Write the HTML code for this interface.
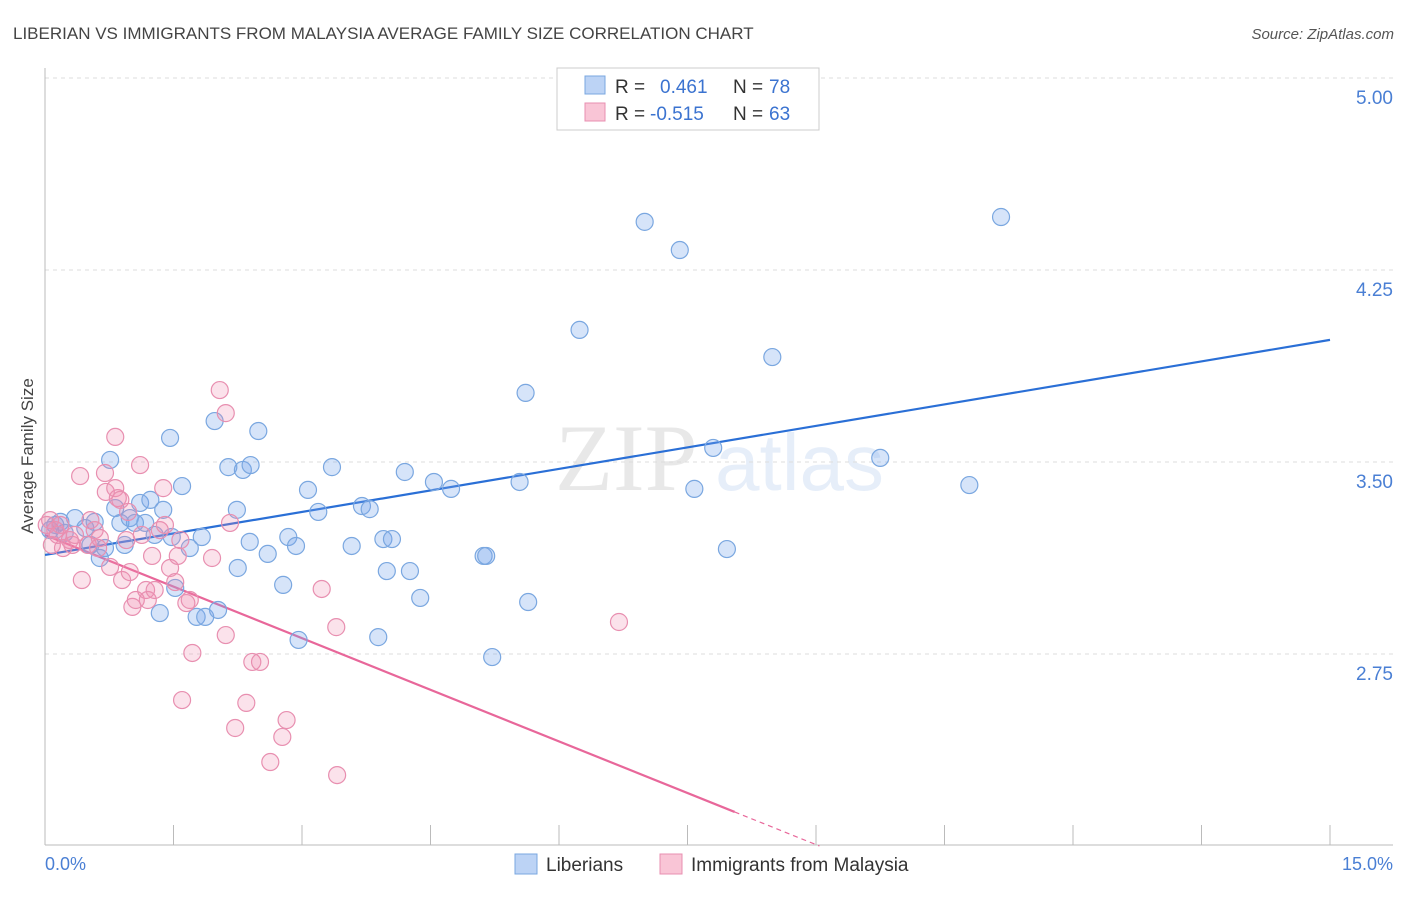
<!DOCTYPE html>
<html><head><meta charset="utf-8"><style>
body{margin:0;background:#fff;font-family:"Liberation Sans",sans-serif;}
</style></head><body>
<svg id="chart" width="1406" height="892" xmlns="http://www.w3.org/2000/svg" font-family="Liberation Sans, sans-serif">
<text x="13" y="39" font-size="17" fill="#444">LIBERIAN VS IMMIGRANTS FROM MALAYSIA AVERAGE FAMILY SIZE CORRELATION CHART</text>
<text x="1394" y="39" font-size="15" fill="#555" font-style="italic" text-anchor="end">Source: ZipAtlas.com</text>
<text transform="translate(33,456) rotate(-90)" font-size="17" fill="#444" text-anchor="middle">Average Family Size</text>
<g opacity="0.13"><text x="555" y="490" font-size="95" font-family="Liberation Serif, serif" fill="#555">ZIP</text><text x="715" y="490" font-size="80" fill="#4a7fd4">atlas</text></g>
<g id="grid"></g><g id="axes"></g><g id="lines"></g><g id="pts"></g>
<g>
<rect x="557" y="68" width="262" height="62" fill="#fff" stroke="#ccc"/>
<rect x="585" y="76" width="20" height="18" fill="#bcd3f5" stroke="#7aa7e0"/>
<rect x="585" y="103" width="20" height="18" fill="#f9c5d6" stroke="#e88fb0"/>
<text x="615" y="93" font-size="19" fill="#333">R =</text><text x="660" y="93" font-size="19" fill="#3b73d0">0.461</text>
<text x="733" y="93" font-size="19" fill="#333">N =</text><text x="769" y="93" font-size="19" fill="#3b73d0">78</text>
<text x="615" y="120" font-size="19" fill="#333">R =</text><text x="650" y="120" font-size="19" fill="#3b73d0">-0.515</text>
<text x="733" y="120" font-size="19" fill="#333">N =</text><text x="769" y="120" font-size="19" fill="#3b73d0">63</text>
</g>
<g>
<rect x="515" y="854" width="22" height="20" fill="#bcd3f5" stroke="#7aa7e0"/>
<text x="546" y="871" font-size="19" fill="#333">Liberians</text>
<rect x="660" y="854" width="22" height="20" fill="#f9c5d6" stroke="#e88fb0"/>
<text x="691" y="871" font-size="19" fill="#333">Immigrants from Malaysia</text>
</g>
<text x="45" y="870" font-size="18" fill="#4a7fd4">0.0%</text>
<text x="1393" y="870" font-size="18" fill="#4a7fd4" text-anchor="end">15.0%</text>
</svg>
<script>
const yTicks=[5.00,4.25,3.50,2.75];
const xTicks=[0,1.5,3,4.5,6,7.5,9,10.5,12,13.5,15];
const blueX=[0.12,0.18,0.06,0.23,0.35,0.47,0.53,0.58,0.64,0.70,0.76,0.82,0.88,0.93,0.99,1.05,1.11,1.17,1.23,1.28,1.34,1.38,1.46,1.48,1.52,1.60,1.69,1.77,1.87,1.83,2.02,1.98,2.14,2.24,2.25,2.31,2.39,2.40,2.49,2.60,2.78,2.84,2.93,2.96,3.07,3.19,3.35,3.58,3.70,3.79,3.89,3.95,3.99,4.05,4.20,4.26,4.38,4.54,4.74,5.12,5.15,5.22,5.54,5.61,5.64,6.24,7.00,7.41,7.58,7.80,7.96,8.49,9.75,10.79,11.16];
const blueY=[3.254,3.266,3.234,3.223,3.281,3.242,3.176,3.266,3.125,3.164,3.508,3.320,3.262,3.176,3.281,3.262,3.340,3.262,3.352,3.215,2.910,3.313,3.594,3.207,3.008,3.406,3.164,2.895,2.895,3.207,2.922,3.660,3.480,3.313,3.086,3.469,3.188,3.488,3.621,3.141,3.020,3.207,3.172,2.805,3.391,3.305,3.480,3.172,3.328,3.316,2.816,3.199,3.074,3.199,3.461,3.074,2.969,3.422,3.395,3.133,3.133,2.738,3.422,3.770,2.953,4.016,4.438,4.328,3.395,3.555,3.160,3.910,3.516,3.410,4.457];
const pinkX=[0.06,0.12,0.08,0.18,0.21,0.29,0.35,0.41,0.43,0.50,0.53,0.58,0.64,0.70,0.71,0.76,0.82,0.85,0.82,0.88,0.90,0.95,0.99,1.02,1.06,1.11,1.13,1.18,1.20,1.25,1.34,1.38,1.46,1.52,1.55,1.60,1.65,1.69,1.72,1.95,2.04,2.11,2.11,2.16,2.22,2.35,2.42,2.51,2.63,2.77,2.82,3.23,3.40,3.41,6.70,0.02,0.15,0.32,0.62,0.97,1.28,1.40,1.58];
const pinkY=[3.273,3.234,3.176,3.254,3.164,3.195,3.215,3.445,3.039,3.176,3.273,3.234,3.203,3.457,3.383,3.090,3.598,3.359,3.398,3.352,3.039,3.195,3.070,2.934,2.961,3.488,3.215,3.000,2.961,3.133,3.234,3.398,3.086,3.031,3.133,2.570,2.949,2.961,2.754,3.125,3.781,3.691,2.824,3.262,2.461,2.559,2.719,2.719,2.328,2.426,2.492,3.004,2.855,2.277,2.875,3.254,3.215,3.176,3.164,3.305,3.000,3.254,3.195];
const blueFit=[3.137,0.056];
const pinkFit=[3.215,-0.1344];
const NS="http://www.w3.org/2000/svg";
const sx=v=>45+v/15*1285, sy=v=>78+(5-v)*256;
function mk(p,t,a){const e=document.createElementNS(NS,t);for(const k in a)e.setAttribute(k,a[k]);document.getElementById(p).appendChild(e);return e;}
yTicks.forEach(t=>{
 const l=mk('grid','line',{x1:45,x2:1393,y1:sy(t),y2:sy(t),stroke:'#ddd','stroke-dasharray':'4,4'});
 
 
 const tx=mk('grid','text',{x:1393,y:sy(t)+26,'font-size':19,fill:'#4a7fd4','text-anchor':'end'});tx.textContent=t.toFixed(2);
 
 
});
const xa=mk('axes','line',{x1:45,x2:1393,y1:845,y2:845,stroke:'#bbb'});


const ya=mk('axes','line',{x1:45,x2:45,y1:68,y2:845,stroke:'#bbb'});


xTicks.forEach(t=>{const l=mk('axes','line',{x1:sx(t),x2:sx(t),y1:825,y2:845,stroke:'#bbb'});
 
 });
function dots(X,Y,fill,stroke,name){X.forEach((x,i)=>{const c=mk('pts','circle',{cx:sx(x),cy:sy(Y[i]),r:8.5,fill:fill,stroke:stroke,'stroke-width':1.2});
 
 });}
dots(blueX,blueY,'rgba(120,165,235,0.3)','#7aa7e0','liberian-point');
dots(pinkX,pinkY,'rgba(240,140,175,0.25)','#e88fb0','malaysia-point');
const bl=mk('lines','line',{x1:sx(0),y1:sy(blueFit[0]),x2:sx(15),y2:sy(blueFit[0]+blueFit[1]*15),stroke:'#2a6fd6','stroke-width':2.2});


const xe=8.05, xz=(2.0-pinkFit[0])/pinkFit[1];
const pl=mk('lines','line',{x1:sx(0),y1:sy(pinkFit[0]),x2:sx(xe),y2:sy(pinkFit[0]+pinkFit[1]*xe),stroke:'#e8679a','stroke-width':2.2});


const pd=mk('lines','line',{x1:sx(xe),y1:sy(pinkFit[0]+pinkFit[1]*xe),x2:sx(xz),y2:sy(2.0),stroke:'#e8679a','stroke-width':1.2,'stroke-dasharray':'5,4'});


</script>
</body></html>
